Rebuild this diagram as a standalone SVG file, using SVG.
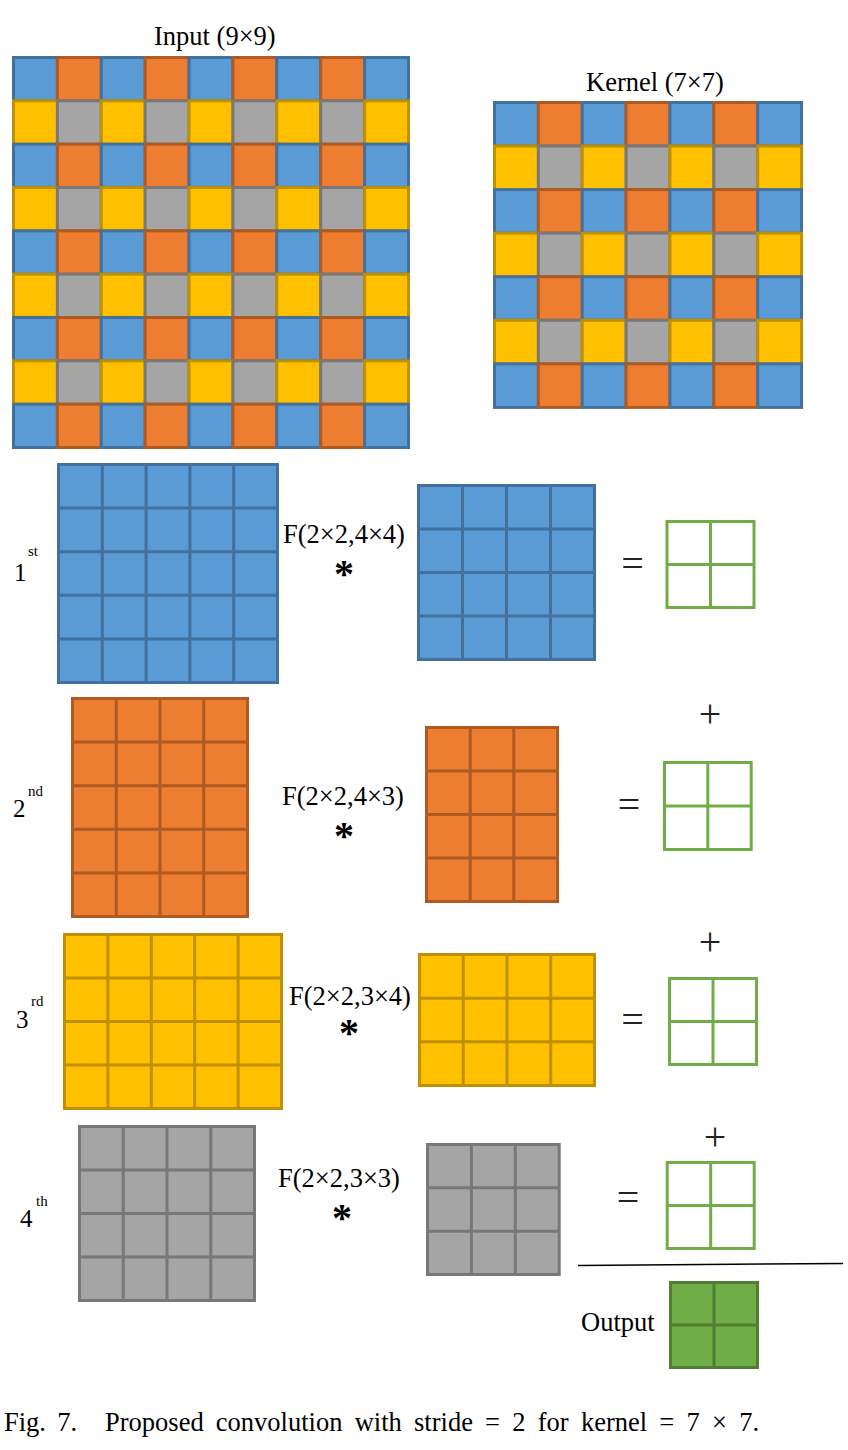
<svg xmlns="http://www.w3.org/2000/svg" xmlns:xlink="http://www.w3.org/1999/xlink" width="848" height="1450" viewBox="0 0 848 1450">
<style>
text{font-family:"Liberation Serif","Times New Roman",serif;fill:#000}
.t{font-size:26.5px}
.d{font-size:25px}
.s{font-size:15px}
.ast{font-size:40px;font-weight:bold;text-anchor:middle}
.op{font-size:40px;text-anchor:middle;fill:#222}
.bl{fill:#5B9BD5;stroke:#41719C;stroke-width:3}
.or{fill:#ED7D31;stroke:#AE5A21;stroke-width:3}
.ye{fill:#FFC000;stroke:#BF9000;stroke-width:3}
.gr{fill:#A5A5A5;stroke:#787878;stroke-width:3}
.blL{fill:none;stroke:#41719C;stroke-width:3}
.orL{fill:none;stroke:#AE5A21;stroke-width:3}
.yeL{fill:none;stroke:#BF9000;stroke-width:3}
.grL{fill:none;stroke:#787878;stroke-width:3}
.gn{fill:#fff;stroke:#70AD47;stroke-width:3}
.gnL{fill:none;stroke:#70AD47;stroke-width:3}
.out{fill:#70AD47;stroke:#507E32;stroke-width:3}
.outL{fill:none;stroke:#507E32;stroke-width:3}
</style>
<defs>
<rect id="cB" width="44" height="44" class="bl"/>
<rect id="cO" width="44" height="44" class="or"/>
<rect id="cY" width="44" height="44" class="ye"/>
<rect id="cG" width="44" height="44" class="gr"/>
<g id="rowA9">
<use href="#cB" x="1.5"/><use href="#cO" x="45.5"/><use href="#cB" x="89.5"/><use href="#cO" x="133.5"/><use href="#cB" x="177.5"/><use href="#cO" x="221.5"/><use href="#cB" x="265.5"/><use href="#cO" x="309.5"/><use href="#cB" x="353.5"/>
</g>
<g id="rowB9">
<use href="#cY" x="1.5"/><use href="#cG" x="45.5"/><use href="#cY" x="89.5"/><use href="#cG" x="133.5"/><use href="#cY" x="177.5"/><use href="#cG" x="221.5"/><use href="#cY" x="265.5"/><use href="#cG" x="309.5"/><use href="#cY" x="353.5"/>
</g>
<g id="rowA7">
<use href="#cB" x="1.5"/><use href="#cO" x="45.5"/><use href="#cB" x="89.5"/><use href="#cO" x="133.5"/><use href="#cB" x="177.5"/><use href="#cO" x="221.5"/><use href="#cB" x="265.5"/>
</g>
<g id="rowB7">
<use href="#cY" x="1.5"/><use href="#cG" x="45.5"/><use href="#cY" x="89.5"/><use href="#cG" x="133.5"/><use href="#cY" x="177.5"/><use href="#cG" x="221.5"/><use href="#cY" x="265.5"/>
</g>
</defs>
<rect width="848" height="1450" fill="#fff"/>

<g id="input">
<text class="t" x="154" y="45">Input (9×9)</text>
<g transform="translate(12,56) scale(0.9975,0.985)">
<use href="#rowA9" y="1.5"/><use href="#rowB9" y="45.5"/><use href="#rowA9" y="89.5"/><use href="#rowB9" y="133.5"/><use href="#rowA9" y="177.5"/><use href="#rowB9" y="221.5"/><use href="#rowA9" y="265.5"/><use href="#rowB9" y="309.5"/><use href="#rowA9" y="353.5"/>
</g>
</g>

<g id="kernel">
<text class="t" x="586" y="91">Kernel (7×7)</text>
<g transform="translate(493,101) scale(0.997,0.99)">
<use href="#rowA7" y="1.5"/><use href="#rowB7" y="45.5"/><use href="#rowA7" y="89.5"/><use href="#rowB7" y="133.5"/><use href="#rowA7" y="177.5"/><use href="#rowB7" y="221.5"/><use href="#rowA7" y="265.5"/>
</g>
</g>

<g id="step1">
<text class="d" x="14" y="581">1</text><text class="s" x="28" y="556">st</text>
<rect class="bl" x="58.5" y="464.5" width="219" height="218"/>
<path class="blL" d="M102.3 464.5V682.5M146.1 464.5V682.5M189.9 464.5V682.5M233.7 464.5V682.5M58.5 508.1H277.5M58.5 551.7H277.5M58.5 595.3H277.5M58.5 638.9H277.5"/>
<text class="t" x="283" y="543">F(2×2,4×4)</text>
<text class="ast" x="344" y="587">*</text>
<rect class="bl" x="418.5" y="485.5" width="176" height="174"/>
<path class="blL" d="M462.5 485.5V659.5M506.5 485.5V659.5M550.5 485.5V659.5M418.5 529H594.5M418.5 572.5H594.5M418.5 616H594.5"/>
<text class="op" x="632.5" y="577">=</text>
<rect class="gn" x="667" y="521.5" width="87" height="86"/>
<path class="gnL" d="M710.5 521.5V607.5M667 564.5H754"/>
</g>

<g id="step2">
<text class="d" x="13" y="817">2</text><text class="s" x="28" y="796">nd</text>
<rect class="or" x="72.5" y="698.5" width="175" height="218"/>
<path class="orL" d="M116.25 698.5V916.5M160 698.5V916.5M203.75 698.5V916.5M72.5 742.1H247.5M72.5 785.7H247.5M72.5 829.3H247.5M72.5 872.9H247.5"/>
<text class="t" x="282" y="805">F(2×2,4×3)</text>
<text class="ast" x="344" y="849">*</text>
<rect class="or" x="426.5" y="727.5" width="131" height="174"/>
<path class="orL" d="M470.2 727.5V901.5M513.8 727.5V901.5M426.5 771H557.5M426.5 814.5H557.5M426.5 858H557.5"/>
<text class="op" x="710" y="727">+</text>
<text class="op" x="629" y="818">=</text>
<rect class="gn" x="664.5" y="762.5" width="86.7" height="87"/>
<path class="gnL" d="M707.8 762.5V849.5M664.5 806H751.2"/>
</g>

<g id="step3">
<text class="d" x="16" y="1028">3</text><text class="s" x="31" y="1006">rd</text>
<rect class="ye" x="64.5" y="934.5" width="217" height="174"/>
<path class="yeL" d="M107.9 934.5V1108.5M151.3 934.5V1108.5M194.7 934.5V1108.5M238.1 934.5V1108.5M64.5 978H281.5M64.5 1021.5H281.5M64.5 1065H281.5"/>
<text class="t" x="289" y="1005">F(2×2,3×4)</text>
<text class="ast" x="349" y="1046">*</text>
<rect class="ye" x="419.5" y="954.5" width="175" height="131"/>
<path class="yeL" d="M463.25 954.5V1085.5M507 954.5V1085.5M550.75 954.5V1085.5M419.5 998.2H594.5M419.5 1041.8H594.5"/>
<text class="op" x="710" y="955">+</text>
<text class="op" x="632.5" y="1033">=</text>
<rect class="gn" x="669.5" y="978.5" width="87" height="86"/>
<path class="gnL" d="M713 978.5V1064.5M669.5 1021.5H756.5"/>
</g>

<g id="step4">
<text class="d" x="20" y="1227">4</text><text class="s" x="36" y="1206">th</text>
<rect class="gr" x="79.5" y="1126.5" width="175" height="174"/>
<path class="grL" d="M123.25 1126.5V1300.5M167 1126.5V1300.5M210.75 1126.5V1300.5M79.5 1170H254.5M79.5 1213.5H254.5M79.5 1257H254.5"/>
<text class="t" x="278" y="1187">F(2×2,3×3)</text>
<text class="ast" x="342" y="1231">*</text>
<rect class="gr" x="427.5" y="1144.5" width="131.7" height="130"/>
<path class="grL" d="M471.4 1144.5V1274.5M515.3 1144.5V1274.5M427.5 1187.8H559.2M427.5 1231.2H559.2"/>
<text class="op" x="715" y="1150">+</text>
<text class="op" x="628" y="1211">=</text>
<rect class="gn" x="667.2" y="1162.5" width="87" height="86"/>
<path class="gnL" d="M710.7 1162.5V1248.5M667.2 1205.5H754.2"/>
</g>

<g id="sum-line">
<path d="M578 1265.5L843 1263.5" stroke="#000" stroke-width="1.5" fill="none"/>
</g>

<g id="output">
<text class="t" x="581" y="1331">Output</text>
<rect class="out" x="670.5" y="1282.5" width="87" height="85"/>
<path class="outL" d="M714 1282.5V1367.5M670.5 1325H757.5"/>
</g>

<g id="caption">
<text class="t" x="4" y="1431" style="word-spacing:4.7px">Fig. 7.</text>
<text class="t" x="105" y="1431" style="word-spacing:5.6px">Proposed convolution with stride = 2 for kernel = 7 × 7.</text>
</g>
</svg>
